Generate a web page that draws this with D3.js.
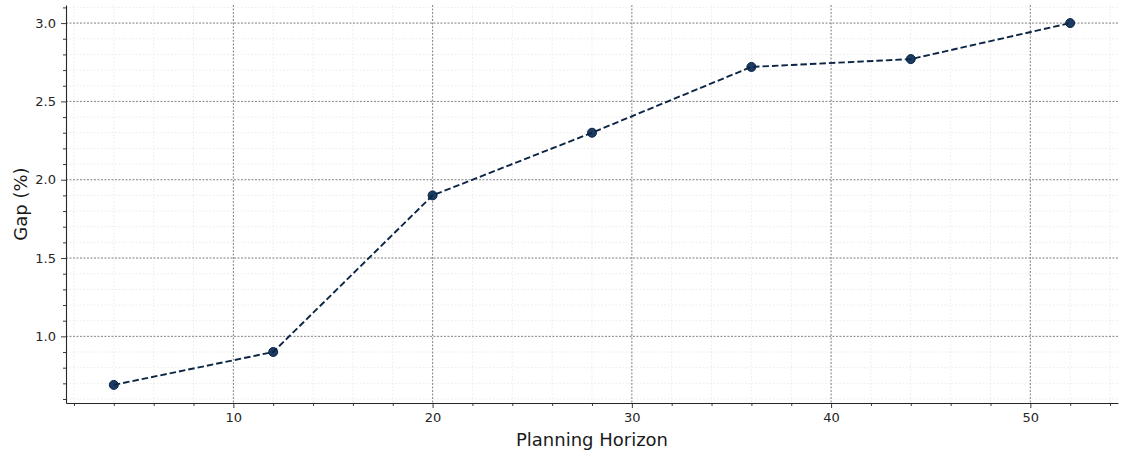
<!DOCTYPE html>
<html>
<head>
<meta charset="utf-8">
<script src="https://cdn.jsdelivr.net/npm/d3@7"></script>
<style>
  html, body { margin: 0; padding: 0; background: #fff; }
  svg { display: block; font-family: "DejaVu Sans", sans-serif; }
</style>
</head>
<body>
<svg id="chart" width="1122" height="455"></svg>
<script>
// Planning horizon lengths and the optimality gap measured at each
const horizons = [4, 12, 20, 28, 36, 44, 52];
const gapPercent = [0.69, 0.90, 1.90, 2.30, 2.72, 2.77, 3.00];

const xTickValues = [10, 20, 30, 40, 50];
const yTickValues = [1.0, 1.5, 2.0, 2.5, 3.0];

const xLabel = "Planning Horizon";
const yLabel = "Gap (%)";

const width = 1122, height = 455;
const margin = { top: 5, right: 4, bottom: 52, left: 66 };

const svg = d3.select("#chart");

// Axis limits padded by 5% of the data span on each side
const xPad = (d3.max(horizons) - d3.min(horizons)) * 0.05;
const yPad = (d3.max(gapPercent) - d3.min(gapPercent)) * 0.05;

const x = d3.scaleLinear()
  .domain([d3.min(horizons) - xPad, d3.max(horizons) + xPad])
  .range([margin.left, width - margin.right]);

const y = d3.scaleLinear()
  .domain([d3.min(gapPercent) - yPad, d3.max(gapPercent) + yPad])
  .range([height - margin.bottom, margin.top]);

const xMinor = d3.range(2, 55, 2).filter(v => v >= x.domain()[0] && v <= x.domain()[1]);
const yMinor = d3.range(6, 32, 1).map(v => v / 10).filter(v => v >= y.domain()[0] && v <= y.domain()[1]);

// Minor grid
const grid = svg.append("g");
grid.selectAll("line.xminor").data(xMinor).join("line")
  .attr("x1", d => x(d)).attr("x2", d => x(d))
  .attr("y1", y.range()[1]).attr("y2", y.range()[0])
  .attr("stroke", "#e6e6e6").attr("stroke-width", 0.8).attr("stroke-dasharray", "1.5,2");
grid.selectAll("line.yminor").data(yMinor).join("line")
  .attr("x1", x.range()[0]).attr("x2", x.range()[1])
  .attr("y1", d => y(d)).attr("y2", d => y(d))
  .attr("stroke", "#e6e6e6").attr("stroke-width", 0.8).attr("stroke-dasharray", "1.5,2");

// Major grid
grid.selectAll("line.xmajor").data(xTickValues).join("line")
  .attr("x1", d => x(d)).attr("x2", d => x(d))
  .attr("y1", y.range()[1]).attr("y2", y.range()[0])
  .attr("stroke", "#7a7a7a").attr("stroke-width", 0.9).attr("stroke-dasharray", "2,1.5");
grid.selectAll("line.ymajor").data(yTickValues).join("line")
  .attr("x1", x.range()[0]).attr("x2", x.range()[1])
  .attr("y1", d => y(d)).attr("y2", d => y(d))
  .attr("stroke", "#7a7a7a").attr("stroke-width", 0.9).attr("stroke-dasharray", "2,1.5");

// Axes
const xAxis = svg.append("g")
  .attr("transform", `translate(0,${y.range()[0]})`)
  .call(d3.axisBottom(x).tickValues(xTickValues).tickFormat(d3.format("d")).tickSize(5).tickPadding(5).tickSizeOuter(0));
const xAxisMinor = svg.append("g")
  .attr("transform", `translate(0,${y.range()[0]})`)
  .call(d3.axisBottom(x).tickValues(xMinor.filter(v => !xTickValues.includes(v))).tickFormat("").tickSize(3).tickSizeOuter(0));
xAxisMinor.select(".domain").remove();

const yAxis = svg.append("g")
  .attr("transform", `translate(${x.range()[0]},0)`)
  .call(d3.axisLeft(y).tickValues(yTickValues).tickFormat(d3.format(".1f")).tickSize(5).tickPadding(5).tickSizeOuter(0));
const yAxisMinor = svg.append("g")
  .attr("transform", `translate(${x.range()[0]},0)`)
  .call(d3.axisLeft(y).tickValues(yMinor.filter(v => !yTickValues.some(t => Math.abs(t - v) < 1e-9))).tickFormat("").tickSize(3).tickSizeOuter(0));
yAxisMinor.select(".domain").remove();

[xAxis, yAxis, xAxisMinor, yAxisMinor].forEach(g => {
  g.selectAll(".domain").attr("stroke", "#262626").attr("stroke-width", 1.1);
  g.selectAll(".tick line").attr("stroke", "#262626").attr("stroke-width", 0.9);
  g.selectAll(".tick text").attr("fill", "#262626").attr("font-size", 13)
    .attr("font-family", "DejaVu Sans, sans-serif");
});

// Axis titles
svg.append("text")
  .attr("x", (x.range()[0] + x.range()[1]) / 2)
  .attr("y", height - 9)
  .attr("text-anchor", "middle")
  .attr("font-size", 18)
  .attr("fill", "#1a1a1a")
  .text(xLabel);

svg.append("text")
  .attr("transform", `translate(27,${(y.range()[0] + y.range()[1]) / 2}) rotate(-90)`)
  .attr("text-anchor", "middle")
  .attr("font-size", 18)
  .attr("fill", "#1a1a1a")
  .text(yLabel);

// Data series
const points = horizons.map((h, i) => ({ h, g: gapPercent[i] }));

svg.append("g").selectAll("circle").data(points).join("circle")
  .attr("cx", d => x(d.h)).attr("cy", d => y(d.g))
  .attr("r", 4.5)
  .attr("fill", "#1c3b63")
  .attr("stroke", "#0b2545").attr("stroke-width", 1);

svg.append("path")
  .datum(points)
  .attr("fill", "none")
  .attr("stroke", "#0b2545")
  .attr("stroke-width", 1.9)
  .attr("stroke-dasharray", "6.5,3")
  .attr("d", d3.line().x(d => x(d.h)).y(d => y(d.g)));
</script>
</body>
</html>
